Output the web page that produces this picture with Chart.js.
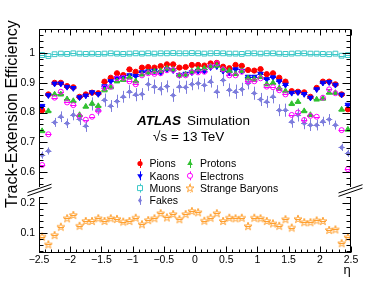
<!DOCTYPE html>
<html><head><meta charset="utf-8">
<script src="https://cdn.jsdelivr.net/npm/chart.js"></script>
<style>
html,body{margin:0;padding:0;background:#fff;}
#wrap{position:relative;width:390px;height:283px;overflow:hidden;font-family:"Liberation Sans",Arial,Helvetica,sans-serif;}
canvas{position:absolute;left:0;top:0;}
.t{position:absolute;white-space:nowrap;color:#000;line-height:1;}
#ytitle{font-size:16px;left:3.6px;top:208px;transform-origin:left top;transform:rotate(-90deg);}
.lg{font-size:10.5px;}
</style></head><body>
<div id="wrap">
<canvas id="cUp" width="390" height="283"></canvas>
<canvas id="cLo" width="390" height="283"></canvas>
<div class="t" id="ytitle">Track-Extension Efficiency</div>
<div class="t" style="font-size:13.5px;font-weight:bold;font-style:italic;left:137px;top:113.6px;">ATLAS</div>
<div class="t" style="font-size:13.5px;left:187px;top:113.6px;">Simulation</div>
<div class="t" style="font-size:13.5px;left:153px;top:129.6px;">√s = 13 TeV</div>
<div class="t lg" style="left:149.5px;top:158.2px;">Pions</div>
<div class="t lg" style="left:149.5px;top:170.5px;">Kaons</div>
<div class="t lg" style="left:149.5px;top:182.8px;">Muons</div>
<div class="t lg" style="left:149.5px;top:195.1px;">Fakes</div>
<div class="t lg" style="left:200px;top:158.2px;">Protons</div>
<div class="t lg" style="left:200px;top:170.5px;">Electrons</div>
<div class="t lg" style="left:200px;top:182.8px;">Strange Baryons</div>
<div class="t" style="font-size:13px;left:343.5px;top:263px;">η</div>
</div>
<script>
// ---- data ----
const etaBins = [-2.45,-2.35,-2.25,-2.15,-2.05,-1.95,-1.85,-1.75,-1.65,-1.55,-1.45,-1.35,-1.25,-1.15,-1.05,-0.95,-0.85,-0.75,-0.65,-0.55,-0.45,-0.35,-0.25,-0.15,-0.05,
                 0.05,0.15,0.25,0.35,0.45,0.55,0.65,0.75,0.85,0.95,1.05,1.15,1.25,1.35,1.45,1.55,1.65,1.75,1.85,1.95,2.05,2.15,2.25,2.35,2.45];
const pions = [0.808,0.861,0.900,0.900,0.889,0.885,0.853,0.861,0.867,0.865,0.904,0.917,0.932,0.926,0.945,0.937,0.951,0.953,0.951,0.956,0.962,0.962,0.951,0.953,0.960,
               0.960,0.958,0.965,0.967,0.954,0.949,0.960,0.957,0.943,0.941,0.946,0.929,0.932,0.917,0.904,0.872,0.870,0.868,0.853,0.883,0.904,0.904,0.895,0.861,0.811];
const kaons = [0.822,0.858,0.897,0.897,0.886,0.882,0.851,0.857,0.868,0.862,0.888,0.905,0.915,0.918,0.925,0.923,0.935,0.938,0.940,0.935,0.945,0.942,0.926,0.930,0.935,
               0.940,0.940,0.952,0.955,0.940,0.935,0.945,0.940,0.920,0.920,0.930,0.912,0.918,0.905,0.893,0.866,0.868,0.862,0.850,0.878,0.900,0.902,0.893,0.860,0.826];
const muons = [0.993,0.990,0.996,0.998,0.997,0.999,0.998,0.997,0.998,0.997,0.998,0.999,0.998,0.997,0.998,0.999,0.998,0.999,0.998,0.999,0.999,1.000,0.999,0.999,1.000,
               0.999,0.998,0.999,1.000,0.999,0.998,0.998,0.997,0.999,0.999,0.998,0.999,0.999,0.998,0.997,0.998,0.999,0.999,0.998,0.998,0.997,0.996,0.998,0.991,0.993];
const fakes = [0.657,0.671,0.767,0.786,0.764,0.792,0.778,0.755,0.829,0.810,0.842,0.822,0.838,0.853,0.870,0.860,0.862,0.895,0.887,0.880,0.888,0.858,0.887,0.885,0.895,
               0.898,0.892,0.904,0.870,0.909,0.876,0.870,0.878,0.898,0.865,0.844,0.836,0.853,0.808,0.808,0.769,0.792,0.764,0.758,0.758,0.770,0.777,0.758,0.683,0.663];
const fakesErr = [0.012,0.012,0.015,0.018,0.016,0.018,0.020,0.020,0.022,0.020,0.022,0.020,0.022,0.020,0.022,0.022,0.020,0.022,0.024,0.022,0.020,0.022,0.020,0.022,0.020,
                  0.020,0.022,0.020,0.022,0.020,0.022,0.024,0.022,0.020,0.022,0.022,0.020,0.022,0.020,0.022,0.020,0.022,0.020,0.020,0.018,0.016,0.018,0.015,0.012,0.012];
const protons = [0.738,0.805,0.861,0.861,0.845,0.839,0.792,0.820,0.830,0.822,0.875,0.885,0.905,0.910,0.918,0.905,0.928,0.935,0.938,0.940,0.948,0.945,0.925,0.928,0.938,
                 0.945,0.948,0.955,0.958,0.945,0.940,0.930,0.940,0.915,0.912,0.920,0.895,0.900,0.882,0.872,0.829,0.836,0.805,0.792,0.844,0.847,0.867,0.866,0.810,0.743];
const electrons = [0.624,0.727,0.850,0.870,0.834,0.825,0.788,0.776,0.786,0.806,0.883,0.887,0.915,0.917,0.905,0.895,0.925,0.932,0.930,0.932,0.942,0.943,0.925,0.925,0.935,
                   0.935,0.937,0.955,0.965,0.945,0.925,0.925,0.937,0.905,0.905,0.915,0.887,0.885,0.875,0.861,0.792,0.800,0.775,0.789,0.786,0.850,0.878,0.865,0.741,0.610];
const strangeBaryons = [0.088,0.062,0.093,0.121,0.149,0.160,0.124,0.140,0.140,0.149,0.140,0.149,0.147,0.138,0.140,0.151,0.129,0.143,0.149,0.166,0.152,0.163,0.146,0.163,0.173,
                        0.169,0.141,0.151,0.166,0.140,0.151,0.149,0.151,0.123,0.151,0.149,0.140,0.132,0.124,0.146,0.118,0.147,0.136,0.136,0.142,0.140,0.110,0.112,0.066,0.086];
const xTicks = [-2.5,-2,-1.5,-1,-0.5,0,0.5,1,1.5,2,2.5];
const yTicksUpper = [0.6,0.7,0.8,0.9,1.0];
const yTicksLower = [0.1,0.2];

// ---- styles ----
const FONT = '"Liberation Sans", Arial, sans-serif';
Chart.defaults.font.family = FONT;
const C = {pion:'#ff0000', kaon:'#0000ff', muon:'#3cc8c8', fake:'#7c7cdc', proton:'#30c030', electron:'#ff00ff', sb:'#ffa030'};
const binHalf = 0.05;

function starCanvas(col){
  const c=document.createElement('canvas'); c.width=10; c.height=10;
  const g=c.getContext('2d'); g.strokeStyle=col; g.lineWidth=1; g.beginPath();
  for(let k=0;k<10;k++){const r=k%2?1.6:4.2; const a=-Math.PI/2+k*Math.PI/5; const px=5+r*Math.cos(a), py=5.3+r*Math.sin(a); k?g.lineTo(px,py):g.moveTo(px,py);}
  g.closePath(); g.stroke(); return c;
}
const starImg = starCanvas(C.sb);

const pts = arr => etaBins.map((x,i)=>({x:x,y:arr[i]}));
function ds(label, arr, col, style, r, fill, extra){
  return Object.assign({label:label, data:pts(arr), pointStyle:style, pointRadius:r, pointBorderColor:col,
    pointBackgroundColor: fill?col:'rgba(0,0,0,0)', pointBorderWidth:1, borderColor:col, showLine:false, barColor:col}, extra||{});
}

const errPlugin = {
  id:'err',
  beforeDatasetsDraw(chart){
    const ctx=chart.ctx, xs=chart.scales.x, ys=chart.scales.y;
    ctx.save();
    ctx.beginPath(); ctx.rect(chart.chartArea.left,chart.chartArea.top,chart.chartArea.right-chart.chartArea.left,chart.chartArea.bottom-chart.chartArea.top); ctx.clip();
    chart.data.datasets.forEach((d,di)=>{
      const meta=chart.getDatasetMeta(di);
      ctx.strokeStyle=d.barColor; ctx.lineWidth=1;
      d.data.forEach((p,i)=>{
        const el=meta.data[i]; const y=Math.round(el.y)+0.5, x=Math.round(el.x)+0.5;
        ctx.beginPath(); ctx.moveTo(xs.getPixelForValue(p.x-binHalf),y); ctx.lineTo(xs.getPixelForValue(p.x+binHalf),y); ctx.stroke();
        if(d.errY){ ctx.beginPath(); ctx.moveTo(x,ys.getPixelForValue(p.y+d.errY[i])); ctx.lineTo(x,ys.getPixelForValue(p.y-d.errY[i])); ctx.stroke(); }
      });
    });
    ctx.restore();
  }
};

function line(ctx,x0,y0,x1,y1){ctx.beginPath();ctx.moveTo(x0,y0);ctx.lineTo(x1,y1);ctx.stroke();}
function xTickMarks(ctx,xs,yEdge,dir){
  for(let k=-25;k<=25;k++){ const v=k/10; const x=Math.round(xs.getPixelForValue(v))+0.5; const len=(k%5===0)?6:3; line(ctx,x,yEdge,x,yEdge+dir*len); }
}
function yTickMarks(ctx,ys,kmin,kmax,left,right){
  for(let k=kmin;k<=kmax;k++){ const v=k/50; const y=Math.round(ys.getPixelForValue(v))+0.5; const len=(k%5===0)?8:4; line(ctx,left,y,left+len,y); line(ctx,right,y,right-len,y); }
}
function breakMarks(ctx,cx,cy){
  ctx.save(); ctx.strokeStyle='#000'; ctx.lineWidth=1;
  line(ctx,cx-12,cy-1.7+4.15,cx+12,cy-1.7-4.15);
  line(ctx,cx-12,cy+1.7+4.15,cx+12,cy+1.7-4.15);
  ctx.restore();
}
function marker(ctx,type,col,x,y){
  ctx.save(); ctx.strokeStyle=col; ctx.fillStyle=col; ctx.lineWidth=1;
  line(ctx,Math.round(x)+0.5,y-4.5,Math.round(x)+0.5,y+4.5);
  ctx.beginPath();
  if(type==='circle'){ctx.arc(x,y,2.6,0,Math.PI*2);ctx.fill();}
  else if(type==='tri'){ctx.moveTo(x,y-3.2);ctx.lineTo(x+2.8,y+1.6);ctx.lineTo(x-2.8,y+1.6);ctx.closePath();ctx.fill();}
  else if(type==='tridown'){ctx.moveTo(x,y+3.2);ctx.lineTo(x+2.8,y-1.6);ctx.lineTo(x-2.8,y-1.6);ctx.closePath();ctx.fill();}
  else if(type==='osq'){ctx.fillStyle='#fff';ctx.rect(x-2.5,y-2.5,5,5);ctx.fill();ctx.stroke();}
  else if(type==='ocirc'){ctx.fillStyle='#fff';ctx.arc(x,y,2.6,0,Math.PI*2);ctx.fill();ctx.stroke();}
  else if(type==='diam'){ctx.moveTo(x,y-2.6);ctx.lineTo(x+2,y);ctx.lineTo(x,y+2.6);ctx.lineTo(x-2,y);ctx.closePath();ctx.fill();}
  else if(type==='star'){ctx.fillStyle='#fff';ctx.fillRect(x-4,y-4,8,8);ctx.drawImage(starImg,x-5,y-5);}
  ctx.restore();
}

const upperFrame = {
  id:'upperFrame',
  afterDraw(chart){
    const ctx=chart.ctx, a=chart.chartArea, xs=chart.scales.x, ys=chart.scales.y;
    ctx.save(); ctx.strokeStyle='#000'; ctx.lineWidth=1;
    const L=Math.round(a.left)+0.5, R=Math.round(a.right)-0.5, T=Math.round(a.top)+0.5, B=a.bottom;
    line(ctx,L,T,L,B); line(ctx,R,T,R,B); line(ctx,L,T,R,T);
    xTickMarks(ctx,xs,T,1);
    yTickMarks(ctx,ys,28,54,L,R);
    ctx.restore();
    breakMarks(ctx,39.5,190); breakMarks(ctx,350.5,190.5);
    const rows=[163.5,175.8,188.1,200.4];
    marker(ctx,'circle',C.pion,140,rows[0]);
    marker(ctx,'tridown',C.kaon,140,rows[1]);
    marker(ctx,'osq',C.muon,140,rows[2]);
    marker(ctx,'diam',C.fake,140,rows[3]);
    marker(ctx,'tri',C.proton,190,rows[0]);
    marker(ctx,'ocirc',C.electron,190,rows[1]);
    marker(ctx,'star',C.sb,190,rows[2]);
  }
};
const lowerFrame = {
  id:'lowerFrame',
  afterDraw(chart){
    const ctx=chart.ctx, a=chart.chartArea, xs=chart.scales.x, ys=chart.scales.y;
    ctx.save(); ctx.strokeStyle='#000'; ctx.lineWidth=1;
    const L=Math.round(a.left)+0.5, R=Math.round(a.right)-0.5, T=a.top, B=Math.round(a.bottom)-0.5;
    line(ctx,L,T,L,B+0.5); line(ctx,R,T,R,B+0.5); line(ctx,L,B,R,B);
    xTickMarks(ctx,xs,B,-1);
    yTickMarks(ctx,ys,2,11,L,R);
    ctx.restore();
  }
};

const fmtY = v => String(Math.round(v*100)/100);
const fmtX = v => { const s=String(Math.round(v*10)/10); return s.replace('-','\u2212'); };
const tickFont = {size:10.5, family:FONT};

new Chart(document.getElementById('cUp'), {
  type:'scatter',
  data:{datasets:[
    ds('Muons',muons,C.muon,'rect',3.4,false),
    ds('Electrons',electrons,C.electron,'circle',2.5,false),
    ds('Protons',protons,C.proton,'triangle',3.2,true),
    ds('Kaons',kaons,C.kaon,'triangle',3.2,true,{pointRotation:180}),
    ds('Pions',pions,C.pion,'circle',2.6,true),
    ds('Fakes',fakes,C.fake,'rectRot',2.2,true,{errY:fakesErr})
  ]},
  options:{
    responsive:false, animation:false, events:[], devicePixelRatio:1,
    layout:{padding:{left:0,right:39,top:29,bottom:96}},
    plugins:{legend:{display:false},tooltip:{enabled:false}},
    scales:{
      x:{type:'linear',min:-2.5,max:2.5,display:false},
      y:{type:'linear',min:0.55,max:1.0807,position:'left',
         grid:{display:false,drawTicks:false},border:{display:false},
         afterFit(s){s.width=39;},
         afterBuildTicks(s){s.ticks=yTicksUpper.map(v=>({value:v}));},
         ticks:{font:tickFont,color:'#000',padding:4,callback:fmtY}}
    }
  },
  plugins:[errPlugin,upperFrame]
});

new Chart(document.getElementById('cLo'), {
  type:'scatter',
  data:{datasets:[
    ds('Strange Baryons',strangeBaryons,C.sb,starImg,4,false)
  ]},
  options:{
    responsive:false, animation:false, events:[], devicePixelRatio:1,
    layout:{padding:{left:0,right:39,top:197,bottom:0}},
    plugins:{legend:{display:false},tooltip:{enabled:false}},
    scales:{
      x:{type:'linear',min:-2.5,max:2.5,position:'bottom',
         grid:{display:false,drawTicks:false},border:{display:false},
         afterFit(s){s.height=30;},
         afterBuildTicks(s){s.ticks=xTicks.map(v=>({value:v}));},
         ticks:{font:tickFont,color:'#000',padding:1,maxRotation:0,autoSkip:false,callback:fmtX}},
      y:{type:'linear',min:0.0333,max:0.22,position:'left',
         grid:{display:false,drawTicks:false},border:{display:false},
         afterFit(s){s.width=39;},
         afterBuildTicks(s){s.ticks=yTicksLower.map(v=>({value:v}));},
         ticks:{font:tickFont,color:'#000',padding:4,callback:fmtY}}
    }
  },
  plugins:[errPlugin,lowerFrame]
});
</script>
</body></html>
